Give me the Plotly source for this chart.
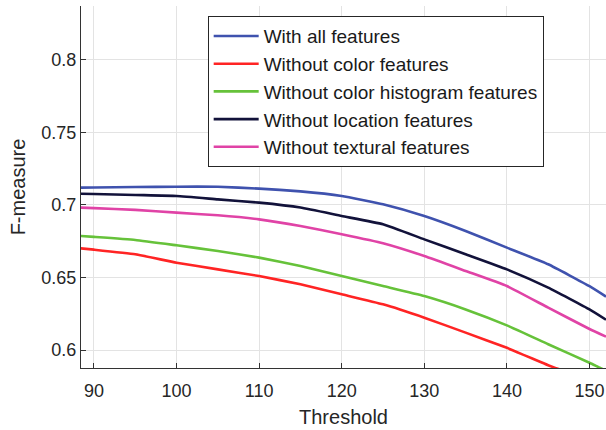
import plotly.graph_objects as go

# ---- data ----
thr = [88.4, 90, 95, 100, 105, 110, 115, 120, 125, 130, 135, 140, 145, 150, 152]

all_feat = [0.7120, 0.7121, 0.7124, 0.7126, 0.7126, 0.7113, 0.7094, 0.7062, 0.7005,
            0.6924, 0.6821, 0.6706, 0.6591, 0.6440, 0.6368]
no_loc = [0.7078, 0.7076, 0.7069, 0.7062, 0.7039, 0.7016, 0.6982, 0.6924, 0.6867,
          0.6763, 0.6660, 0.6556, 0.6430, 0.6280, 0.6209]
no_tex = [0.6982, 0.6978, 0.6966, 0.6947, 0.6929, 0.6901, 0.6855, 0.6798, 0.6736,
          0.6648, 0.6545, 0.6441, 0.6292, 0.6145, 0.6092]

thr_hist = [88.4, 90, 95, 100, 105, 110, 115, 120, 125, 130, 135, 140, 145, 150, 151.3, 152]
no_hist = [0.6786, 0.6780, 0.6759, 0.6722, 0.6683, 0.6637, 0.6579, 0.6510, 0.6441,
           0.6372, 0.6280, 0.6170, 0.6040, 0.5912, 0.5876, 0.5858]

thr_color = [88.4, 90, 95, 100, 105, 110, 115, 120, 125, 130, 135, 140, 145, 145.85, 147]
no_color = [0.6701, 0.6692, 0.6660, 0.6602, 0.6556, 0.6510, 0.6453, 0.6384, 0.6315,
            0.6223, 0.6120, 0.6015, 0.5895, 0.5877, 0.5855]

series = [
    ("With all features", thr, all_feat, "#3F52AE"),
    ("Without color features", thr_color, no_color, "#FF2424"),
    ("Without color histogram features", thr_hist, no_hist, "#66C23A"),
    ("Without location features", thr, no_loc, "#12123A"),
    ("Without textural features", thr, no_tex, "#E043A6"),
]

x_ticks = [90, 100, 110, 120, 130, 140, 150]
y_ticks = [0.6, 0.65, 0.7, 0.75, 0.8]
y_tick_labels = ["0.6", "0.65", "0.7", "0.75", "0.8"]

FONT = "Liberation Sans, Arial, Helvetica, sans-serif"

fig = go.Figure()
for name, xs, ys, col in series:
    fig.add_trace(go.Scatter(
        x=xs, y=ys, mode="lines", name=name,
        line=dict(color=col, width=2.6, shape="spline", smoothing=0.4),
        legendgroup=name,
    ))

fig.update_layout(
    width=606, height=430,
    margin=dict(l=81, r=0, t=6, b=62),
    paper_bgcolor="white", plot_bgcolor="white",
    font=dict(family=FONT, color="#262626", size=18),
    showlegend=True,
    legend=dict(
        x=0.2413, y=0.972, xanchor="left", yanchor="top",
        bgcolor="white", bordercolor="#262626", borderwidth=1,
        font=dict(family=FONT, size=19, color="#1a1a1a"),
        tracegroupgap=0, itemwidth=45, traceorder="grouped",
    ),
    xaxis=dict(
        range=[88.43, 152.0], tickvals=x_ticks,
        showgrid=True, gridcolor="#e3e3e3", gridwidth=1,
        showline=True, linecolor="#333333", linewidth=1.3,
        ticks="inside", ticklen=5, tickcolor="#333333", tickwidth=1.2,
        zeroline=False, automargin=False,
        tickfont=dict(size=18), ticklabelstandoff=6,
        title=dict(text="Threshold", font=dict(size=20), standoff=10),
    ),
    yaxis=dict(
        range=[0.5876, 0.8372], tickvals=y_ticks, ticktext=y_tick_labels,
        showgrid=True, gridcolor="#e3e3e3", gridwidth=1,
        showline=True, linecolor="#333333", linewidth=1.3,
        ticks="inside", ticklen=5, tickcolor="#333333", tickwidth=1.2,
        zeroline=False, automargin=False,
        tickfont=dict(size=18),
        title=dict(text="F-measure", font=dict(size=20), standoff=10),
    ),
)

fig.write_html("out.html", config={"displayModeBar": False},
               post_script="document.body.style.margin='0';")
